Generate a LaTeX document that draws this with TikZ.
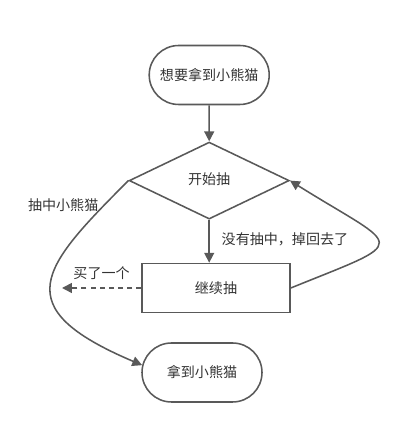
\documentclass[tikz,border=0pt]{standalone}
\usepackage{fontspec}
\newfontfamily\cjk{Noto Sans CJK SC}
\usetikzlibrary{shapes.geometric,shapes.misc,arrows.meta}
\definecolor{linegray}{RGB}{89,89,89}
\definecolor{textgray}{RGB}{51,51,51}
\tikzset{
	flowline/.style={draw=linegray, line width=1.1pt},
	terminal/.style={rounded rectangle, flowline, fill=white, minimum width=3cm, minimum height=1.475cm, inner sep=0pt},
	choice/.style={diamond, flowline, fill=white, aspect=2.1, minimum width=4cm, minimum height=1.925cm, inner sep=0pt},
	process/.style={rectangle, flowline, fill=white, minimum width=3.7cm, minimum height=1.225cm, inner sep=0pt},
	flowarrow/.style={flowline, -{Triangle[width=7pt,length=7pt]}}
}

\begin{document}
\begin{tikzpicture}
		\tikzstyle{every node}=[font=\cjk\fontsize{10}{12}\selectfont, text=textgray]
		% fix the page size
		\useasboundingbox (0,0) rectangle (10,10.775);

		% Draw the boxes
		\node[terminal] (want) at (5.23,8.9) {想要拿到小熊猫};
		\node[choice] (draw) at (5.23,6.26) {\raisebox{3pt}{开始抽}};
		\node[process] (again) at (5.4,3.575) {继续抽};
		\node[terminal] (got) at (5.05,1.4625) {拿到小熊猫};
		\coordinate (buy) at (1.55,3.575);

		% -----------------------------------------------------
		\draw[flowarrow] (want) -- (draw);
		\draw[flowarrow] (draw.south) -- (draw.south |- again.north)
			node[pos=0.45, right, xshift=5pt] {没有抽中，掉回去了};
		\draw[flowarrow] (again.east) .. controls +(22:3.3) and +(-32:3.3) .. (draw.east);

		% -----------------------------------------------------
		\draw[flowarrow, dash pattern=on 3.5pt off 3pt] (again.west) -- (buy)
			node[midway, above, yshift=2pt] {买了一个};
		\draw[flowarrow] (draw.west) .. controls +(225:3.1) and +(157:3.7) .. (got.173)
			node[pos=0.1, left] {抽中小熊猫};
\end{tikzpicture}
\end{document}
